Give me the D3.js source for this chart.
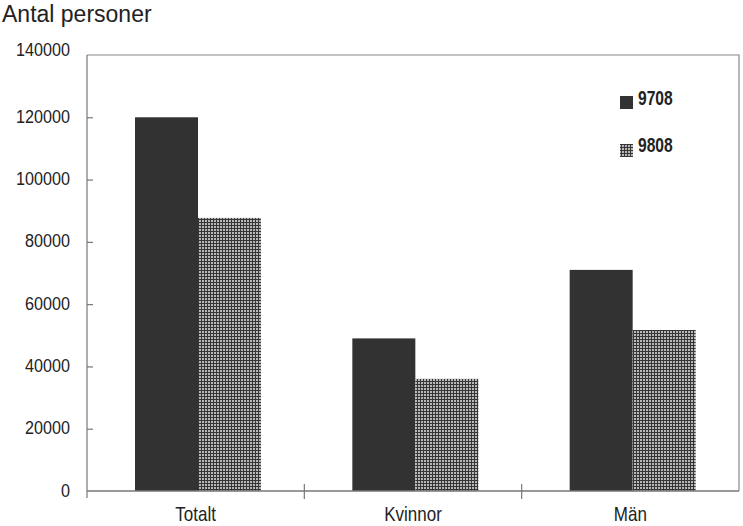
<!DOCTYPE html>
<html><head><meta charset="utf-8">
<script src="https://cdn.jsdelivr.net/npm/d3@7"></script>
<style>body{margin:0;background:#fff}svg{display:block}</style>
</head><body>
<svg id="c" width="743" height="526"></svg>
<script>
const categories = ["Totalt", "Kvinnor", "Män"];
const series = ["9708", "9808"];
const values9708 = [120000, 49000, 71000];
const values9808 = [87700, 36000, 51700];
const yTicks = [0, 20000, 40000, 60000, 80000, 100000, 120000, 140000];

const svg = d3.select("#c");
const L = 87, R = 739, T = 55, B = 491;
const font = "'Liberation Sans',Arial,sans-serif";

const defs = svg.append("defs");
const pat = defs.append("pattern").attr("id","hatch").attr("patternUnits","userSpaceOnUse")
  .attr("width",3).attr("height",3);
pat.append("rect").attr("width",3).attr("height",3).attr("fill","#363636");
pat.append("rect").attr("x",1).attr("y",1).attr("width",2).attr("height",2).attr("fill","#b8b8b8");

const x = d3.scaleBand().domain(categories).range([L, R]);
const xi = d3.scaleBand().domain(series).range([48, 48+126]);
const y = d3.scaleLinear().domain([0, 140000]).range([B, T]);

const data = categories.map((c,i)=>({cat:c, vals:[{s:"9708",v:values9708[i]},{s:"9808",v:values9808[i]}]}));
const fills = {"9708":"#323232","9808":"url(#hatch)"};

function condText(sel, x0, y0, sx, anchor){
  sel.attr("transform",`translate(${x0},${y0}) scale(${sx},1)`).attr("x",0).attr("y",0).attr("text-anchor",anchor);
}

// frame
svg.append("path").attr("d",`M${L},${T}H${R}V${B}`).attr("fill","none").attr("stroke","#888").attr("stroke-width",1.2);

// bars
const g = svg.append("g");
data.forEach(d=>{
  g.selectAll(null).data(d.vals).enter().append("rect")
    .attr("x", e=>x(d.cat)+xi(e.s))
    .attr("y", e=>y(e.v))
    .attr("width", xi.bandwidth())
    .attr("height", e=>B-y(e.v))
    .attr("fill", e=>fills[e.s]);
});

// y axis
const ya = d3.axisLeft(y).tickValues(yTicks).tickFormat(d3.format("d")).tickSizeInner(-6).tickSizeOuter(0).tickPadding(0);
const yg = svg.append("g").attr("transform",`translate(${L},0)`).call(ya);
yg.select(".domain").attr("stroke","#777").attr("stroke-width",1.2).attr("d",`M0,${T}V${B+7}`);
yg.selectAll(".tick line").attr("stroke","#777").attr("stroke-width",1.2);
yg.selectAll(".tick").filter(d=>d===0||d===140000).select("line").remove();
yg.selectAll(".tick text").each(function(d){
  const t = d3.select(this);
  t.attr("dy",null).attr("font-family",font).attr("font-size",19).attr("fill","#222");
  condText(t, -17, d===140000 ? 0 : 5, 0.85, "end");
});

// x axis
const xg = svg.append("g").attr("transform",`translate(0,${B})`);
xg.append("line").attr("x1",L).attr("x2",R).attr("stroke","#777").attr("stroke-width",1.4);
categories.slice(1).forEach(c=>{
  xg.append("line").attr("x1",x(c)).attr("x2",x(c)).attr("y1",-7).attr("y2",8).attr("stroke","#777").attr("stroke-width",1.2);
});
xg.selectAll("text.cat").data(categories).enter().append("text").attr("class","cat")
  .attr("font-family",font).attr("font-size",20).attr("fill","#222").text(c=>c)
  .each(function(c){ condText(d3.select(this), x(c)+x.bandwidth()/2, 30, 0.85, "middle"); });

// title
svg.append("text").attr("x",2).attr("y",22).attr("font-family",font)
  .attr("font-size",23).attr("fill","#222").text("Antal personer");

// legend
const lg = svg.append("g");
series.forEach((s,i)=>{
  lg.append("rect").attr("x",620).attr("y",96+i*48).attr("width",13).attr("height",13).attr("fill",fills[s]);
  const t = lg.append("text").attr("font-family",font).attr("font-weight","bold")
    .attr("font-size",20).attr("fill","#222").text(s);
  condText(t, 638, 105+i*47, 0.78, "start");
});
</script>
</body></html>
